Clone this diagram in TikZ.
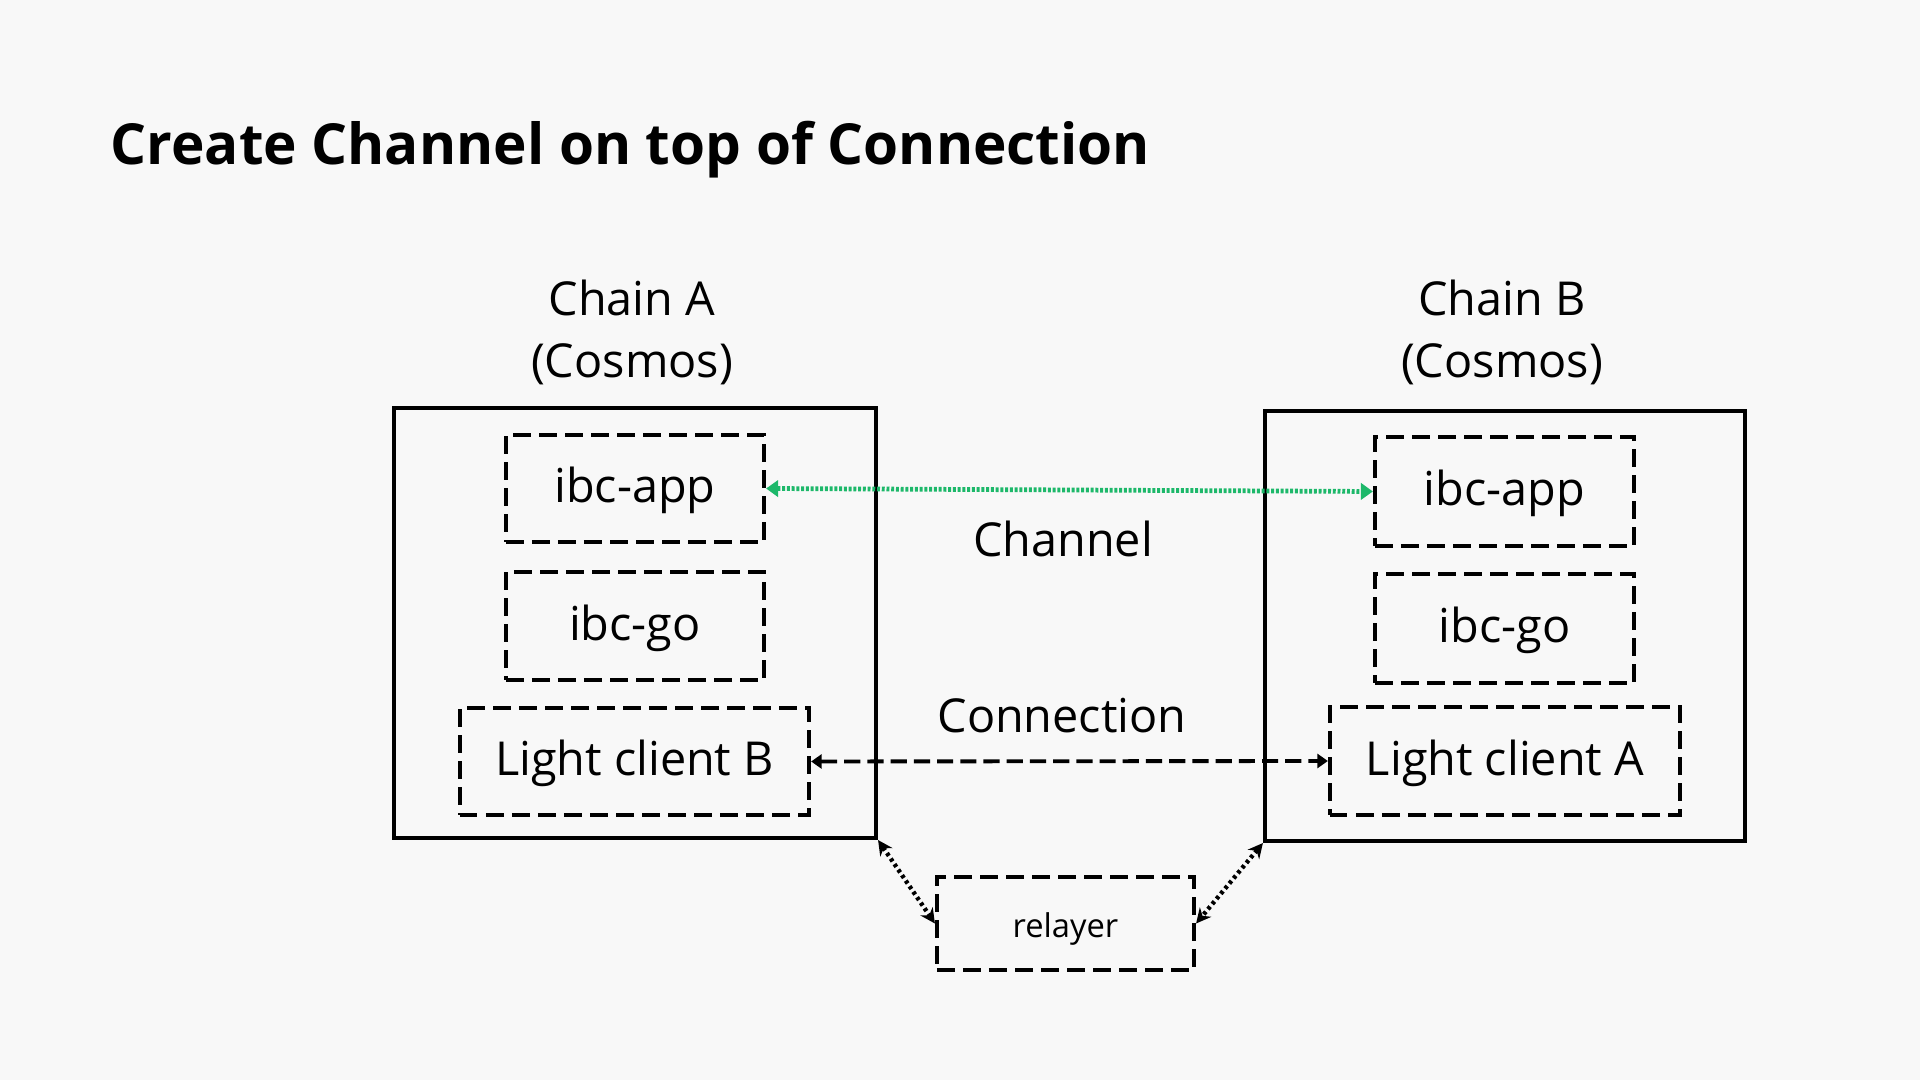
\documentclass[tikz,border=0pt]{standalone}
\usepackage{fontspec}
\setmainfont{Open Sans}
\usetikzlibrary{arrows.meta}
\definecolor{bgc}{HTML}{F8F8F8}
\definecolor{chgreen}{HTML}{1DB86A}
\tikzset{
  chainbox/.style={draw=black, line width=1.1pt, inner sep=0pt},
  modbox/.style={draw=black, line width=1.15pt, dash pattern=on 5pt off 2.4pt, inner sep=0pt,
     text height=0.82em, text depth=0pt, font=\fontsize{13.3pt}{16pt}\selectfont},
  lbl/.style={font=\fontsize{13.3pt}{17.6pt}\selectfont, inner sep=0pt, align=center},
  chanarrow/.style={draw=chgreen, line width=1.35pt, dash pattern=on 0.85pt off 0.5pt,
     {Triangle[length=3.4pt,width=4.6pt]}-{Triangle[length=3.4pt,width=4.6pt]}},
  connarrow/.style={draw=black, line width=1.1pt, dash pattern=on 4.6pt off 2pt,
     {Triangle[length=3pt,width=4pt]}-{Triangle[length=3pt,width=4pt]}},
  relarrow/.style={draw=black, line width=1.25pt, dash pattern=on 0.95pt off 0.95pt,
     {Stealth[length=4.2pt,width=4.2pt]}-{Stealth[length=4.2pt,width=4.2pt]}},
}
\begin{document}
\begin{tikzpicture}[x=0.01cm, y=-0.01cm]
\fill[bgc] (0,0) rectangle (1920,1080);
\useasboundingbox (0,0) rectangle (1920,1080);

\node[anchor=base west, inner sep=0pt, font=\fontsize{16.1pt}{19pt}\selectfont\bfseries] (title) at (110,165) {Create Channel on top of Connection};

% chains
\node[chainbox, minimum width=4.82cm, minimum height=4.30cm] (chainA) at (635,623) {};
\node[chainbox, minimum width=4.80cm, minimum height=4.30cm] (chainB) at (1505,626) {};

\node[lbl] (labA) at (632,332) {Chain A\\(Cosmos)};
\node[lbl] (labB) at (1502,332) {Chain B\\(Cosmos)};

% modules A
\node[modbox, minimum width=2.58cm, minimum height=1.07cm] (appA) at (635,488.5) {ibc-app};
\node[modbox, minimum width=2.58cm, minimum height=1.08cm] (goA) at (635,626) {ibc-go};
\node[modbox, minimum width=3.49cm, minimum height=1.07cm] (lcB) at (634.5,761.5) {Light client B};
% modules B
\node[modbox, minimum width=2.59cm, minimum height=1.09cm] (appB) at (1504.5,491.5) {ibc-app};
\node[modbox, minimum width=2.59cm, minimum height=1.09cm] (goB) at (1504.5,628.5) {ibc-go};
\node[modbox, minimum width=3.50cm, minimum height=1.08cm] (lcA) at (1505,761) {Light client A};

% relayer
\node[modbox, minimum width=2.57cm, minimum height=0.93cm, font=\fontsize{9.3pt}{11pt}\selectfont] (relayer) at (1065.5,923.5) {relayer};

% labels
\node[lbl] (chanlbl) at (1063,539) {Channel};
\node[lbl] (connlbl) at (1062,716) {Connection};

% connectors
\draw[chanarrow] (appA.east) -- (appB.west);
\draw[connarrow] (lcB.east) -- (lcA.west);
\draw[relarrow] (chainA.south east) -- (relayer.west);
\draw[relarrow] (chainB.south west) -- (relayer.east);
\end{tikzpicture}
\end{document}
